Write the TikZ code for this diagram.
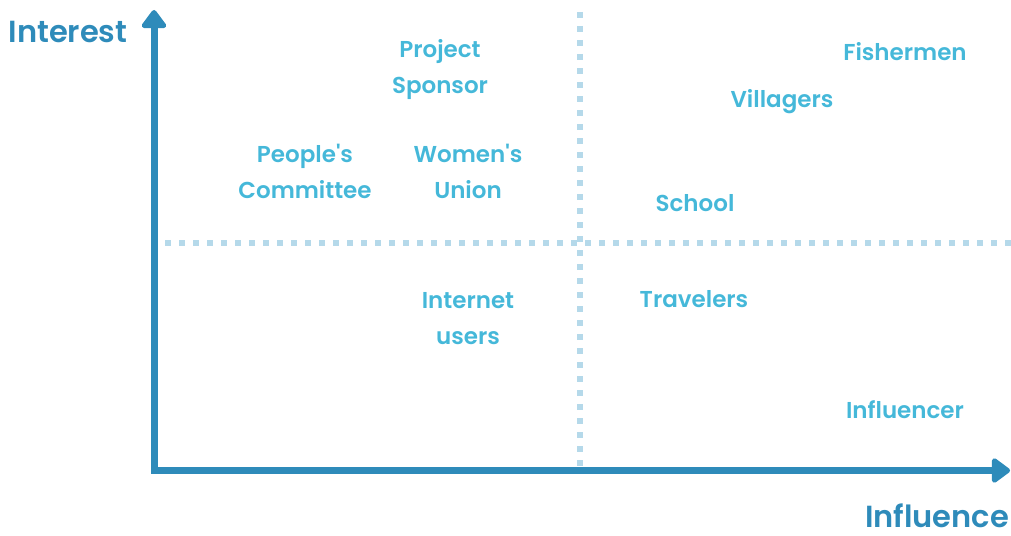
\documentclass[tikz,border=0pt]{standalone}
\usepackage{fontspec}
\setmainfont{Poppins}[UprightFont=* SemiBold, BoldFont=* Bold]
% plain family (no TeX ligature mapping) so that ' stays a straight quote
\newfontfamily\labelfont{Poppins}[UprightFont=* SemiBold]
\usetikzlibrary{arrows.meta}
\definecolor{axisblue}{HTML}{2E8BBA}
\definecolor{labelblue}{HTML}{45B8D9}
\definecolor{gridblue}{HTML}{B5D9EA}
\begin{document}
\begin{tikzpicture}[x=1pt,y=-1pt,
  axis/.style={line width=7pt, axisblue, line join=miter,
    arrows={Triangle[width=28pt,length=20pt,round]-Triangle[width=28pt,length=20pt,round]}},
  divider/.style={line width=6pt, gridblue, dash pattern=on 6pt off 8pt},
  stake/.style={text=labelblue, font=\labelfont\fontsize{23}{36}\selectfont, align=center, inner sep=0pt},
  axislabel/.style={text=axisblue, font=\fontsize{30.5}{34}\selectfont, inner sep=0pt}]
\useasboundingbox (0,0) rectangle (1011,535);
% quadrant dividers
\coordinate (vtop) at (580,12);
\coordinate (vbot) at (580,468);
\coordinate (hleft) at (165,243);
\coordinate (hright) at (1011,243);
\draw[divider] (vtop) -- (vbot);
\draw[divider] (hleft) -- (hright);
% axes
\coordinate (ytip) at (154,10);
\coordinate (origin) at (154,470.5);
\coordinate (xtip) at (1010,470.5);
\draw[axis] (ytip) -- (origin) -- (xtip);
\node[axislabel] (interest) at (68,32) {Interest};
\node[axislabel] (influence) at (937,516) {Influence};
% stakeholders
\node[stake] (sponsor) at (440,70) {Project\\Sponsor};
\node[stake] (committee) at (305,171) {People's\\Committee};
\node[stake] (women) at (468,171) {Women's\\Union};
\node[stake] (fishermen) at (905,52) {Fishermen};
\node[stake] (villagers) at (782,102) {Villagers};
\node[stake] (school) at (695,203) {School};
\node[stake] (internet) at (468,319) {Internet\\users};
\node[stake] (travelers) at (694,299) {Travelers};
\node[stake] (influencer) at (905,410) {Influencer};
\end{tikzpicture}
\end{document}
